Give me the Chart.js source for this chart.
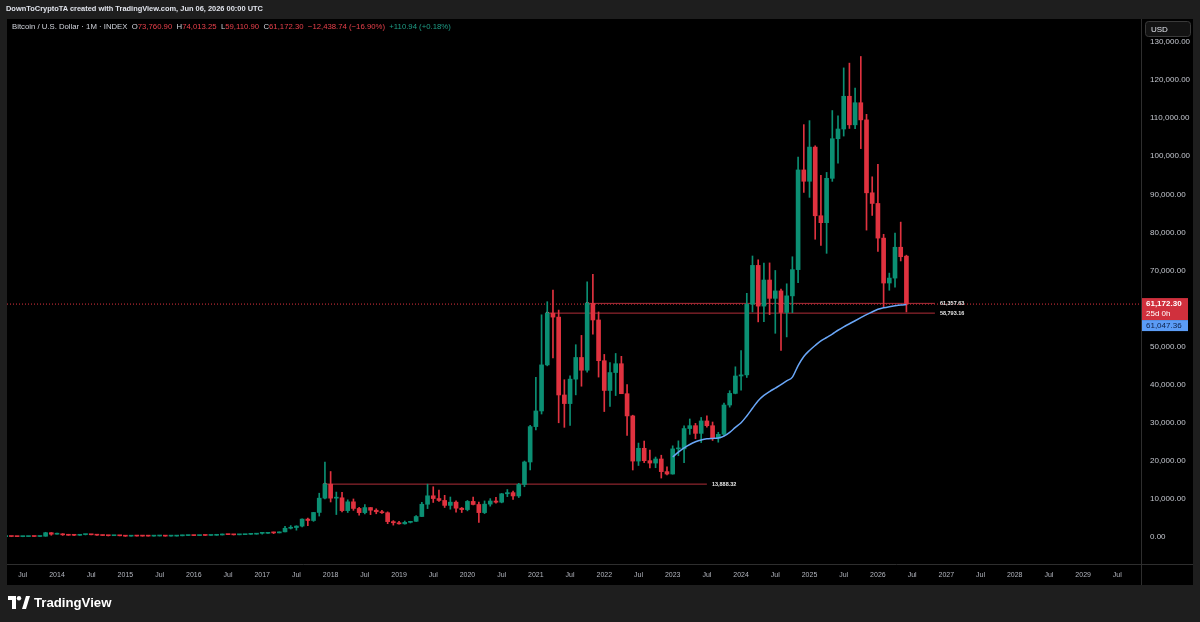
<!DOCTYPE html>
<html><head><meta charset="utf-8">
<script src="https://cdn.jsdelivr.net/npm/chart.js@4.4.1/dist/chart.umd.min.js"></script>
<style>
html,body{margin:0;padding:0;background:#1e1e1e;width:1200px;height:622px;overflow:hidden;font-family:"Liberation Sans",Arial,sans-serif}
canvas{position:absolute;left:0;top:0}
.hd1{position:absolute;left:6px;top:3px;color:#e0e3eb;font-size:7.45px;font-weight:bold;white-space:nowrap;line-height:12px}
.hd2{position:absolute;left:12px;top:21px;color:#d1d4dc;font-size:7.75px;white-space:nowrap;line-height:12px}
.r{color:#e8404b}.g{color:#1f9e87}
.logo{position:absolute;left:8px;top:595px;display:flex;align-items:center;color:#fff;font-weight:bold;font-size:13.2px;font-family:"Liberation Sans",Arial,sans-serif}
.logo svg{margin-right:4px}
</style></head>
<body>
<canvas id="c" width="1200" height="622"></canvas>
<div class="hd1">DownToCryptoTA created with TradingView.com, Jun 06, 2026 00:00 UTC</div>
<div class="hd2">Bitcoin / U.S. Dollar · 1M · INDEX&nbsp; O<span class="r">73,760.90</span>&nbsp; H<span class="r">74,013.25</span>&nbsp; L<span class="r">59,110.90</span>&nbsp; C<span class="r">61,172.30</span>&nbsp; <span class="r">−12,438.74 (−16.90%)</span>&nbsp; <span class="g">+110.94 (+0.18%)</span></div>
<div class="logo"><svg width="22" height="13" viewBox="0 0 22 13"><path d="M0 0H8V13H4V4H0Z" fill="#fff"/><circle cx="11" cy="2.2" r="2.2" fill="#fff"/><path d="M14 13L18 0H22L18 13Z" fill="#fff"/></svg>TradingView</div>
<script>
// ---- data ----
const firstMonth = [2013, 4]; // first candle: Apr 2013
const opens = [
  93,139,129,97,106,135,133,204,1129,
  732,800,573,457,448,628,640,586,477,386,338,378,
  320,217,254,244,236,230,264,284,231,236,314,377,
  430,368,437,416,448,531,673,624,575,609,700,742,
  964,970,1190,1080,1350,2300,2480,2870,4700,4340,6450,10200,
  13880,10200,10300,6930,9240,7500,6400,7730,7030,6630,6370,4040,
  3740,3460,3850,4120,5380,8600,10820,10100,9600,8300,9150,7570,
  7200,9350,8540,6410,8630,9450,9140,11350,11650,10780,13800,19700,
  28990,33100,45200,58793,57750,37300,35040,41460,47150,43800,61357,57000,
  46300,38480,43190,45510,37630,31800,19940,23300,20050,19420,20490,17170,
  16540,23140,23150,28480,29240,27220,30480,29230,25940,26970,34660,37720,
  42280,42580,61130,71330,60640,67490,62680,64630,58970,63330,70220,96400,
  93430,102400,84370,82550,94200,104600,107150,115750,108250,114050,109550,90400,
  87600,78500,66700,68000,76100,73760.90
];
const highs = [
  266,140,130,111,136,147,218,1242,1165,
  1000,880,718,540,630,680,665,600,500,420,460,400,
  320,265,299,261,247,268,318,285,244,330,502,469,
  463,448,440,467,550,780,704,625,627,720,754,970,
  1150,1210,1300,1350,2800,3000,2950,4750,5000,6470,11500,19700,
  17200,11800,11700,9760,9990,7770,8500,7760,7410,6990,6600,4300,
  4100,4200,4130,5640,9100,13880,13200,12330,10950,10500,9500,7750,
  9600,10500,9190,9470,10080,10400,11450,12470,12080,14100,19950,29300,
  41950,58350,61800,64850,59600,41300,42300,50500,52950,67000,69000,59100,
  47950,45800,48200,47450,40000,31990,24670,25200,22800,21000,21480,18400,
  23950,25250,29200,31000,29840,31400,31800,30200,27500,35200,38420,44700,
  48970,64000,73800,72800,71950,71980,70000,65100,66500,73600,99800,108300,
  109350,102750,95000,95750,112000,110600,123200,124450,117900,126200,111000,94600,
  97900,79500,69300,79800,82700,74013.25
];
const lows = [
  50,79,88,65,101,110,106,195,456,
  730,420,440,340,420,540,565,440,360,275,320,300,
  152,212,238,214,228,218,253,198,225,235,300,345,
  350,366,395,414,436,526,604,530,568,603,681,740,
  750,940,890,1070,1340,2100,1800,2670,2970,4110,5500,10000,
  9200,5900,6600,6430,7000,5750,6070,5880,6100,6200,3500,3120,
  3350,3370,3690,4100,5320,7460,9070,9320,7750,7300,6530,6430,
  6870,8450,3850,6150,8100,8900,8970,10600,9850,10370,13200,17600,
  28130,32300,44950,47050,30000,28800,29300,37330,39600,43300,53250,42000,
  32950,34320,37150,37700,26700,17600,18780,19540,18150,18200,15480,16300,
  16500,21350,19550,26950,25800,24800,28850,25350,24900,26560,34100,37600,
  38550,41900,59100,56500,56550,58400,53500,49000,52550,58900,66800,90500,
  89200,78200,76600,74500,93400,98200,105300,107300,107250,102000,80600,84450,
  75000,60500,64800,65600,72500,59110.90
];
const closes = [
  139,129,97,106,135,133,204,1129,732,
  800,573,457,448,628,640,586,477,386,338,378,320,
  217,254,244,236,230,264,284,231,236,314,377,430,
  368,437,416,448,531,673,624,575,609,700,742,964,
  970,1190,1080,1350,2300,2480,2870,4700,4340,6450,10200,13880,
  10200,10300,6930,9240,7500,6400,7730,7030,6630,6370,4040,3740,
  3460,3850,4120,5380,8600,10820,10100,9600,8300,9150,7570,7200,
  9350,8540,6410,8630,9450,9140,11350,11650,10780,13800,19700,28990,
  33100,45200,58793,57750,37300,35040,41460,47150,43800,61357,57000,46300,
  38480,43190,45510,37630,31800,19940,23300,20050,19420,20490,17170,16540,
  23140,23150,28480,29240,27220,30480,29230,25940,26970,34660,37720,42280,
  42580,61130,71330,60640,67490,62680,64630,58970,63330,70220,96400,93430,
  102400,84370,82550,94200,104600,107150,115750,108250,114050,109550,90400,87600,
  78500,66700,68000,76100,73611.04,61172.30
];
// moving average line (Jan 2023 .. Jun 2026)
const maFirstMonth = [2023, 1];
const maValues = [
  21000,22300,23400,24300,25000,25500,25800,25900,26000,26500,27500,28800,
  30000,31800,33800,35800,37200,38200,39100,40000,41000,42000,45000,47400,
  49000,50300,51500,52400,53300,54300,55200,56000,56800,57600,58400,59100,
  59800,60200,60500,60750,60950,61047.36
];
// horizontal levels
const levelValues = [61357.63, 58793.16, 13888.32];
const levelStart  = ["2021-10", "2021-03", "2017-12"];
const levelEnd    = ["2026-11", "2026-11", "2023-07"];
const lastPrice = 61172.30;
const lastMA = 61047.36;
const countdown = "25d 0h";
// axis ticks
const xTickFirst = "2013-07";
const xTickLabels = ["Jul","2014","Jul","2015","Jul","2016","Jul","2017","Jul","2018","Jul","2019","Jul","2020","Jul","2021","Jul","2022","Jul","2023","Jul","2024","Jul","2025","Jul","2026","Jul","2027","Jul","2028","Jul","2029","Jul"];
const yTicks = [0,10000,20000,30000,40000,50000,60000,70000,80000,90000,100000,110000,120000,130000];

// ---- helpers ----
function mIdx(y, m){ return (y-2014)*12 + (m-1); }
function mStr(s){ const p = s.split('-'); return mIdx(+p[0], +p[1]); }
const start = mIdx(firstMonth[0], firstMonth[1]);
const maStart = mIdx(maFirstMonth[0], maFirstMonth[1]);
const UP = '#0b8f73', DOWN = '#e0323f';

const colors = closes.map((c,i)=> c >= opens[i] ? UP : DOWN);
const bodies = opens.map((o,i)=>({x:start+i, y:[o, closes[i]]}));
const wicks = lows.map((l,i)=>({x:start+i, y:[l, highs[i]]}));
const maData = maValues.map((v,i)=>({x:maStart+i, y:v}));
const xTickVals = xTickLabels.map((_,i)=> mStr(xTickFirst) + 6*i);

const xMin = -8.77, xMax = 190.15;
const yMin = -7090, yMax = 135780;

const levelSets = levelValues.map((v,i)=>({
  type:'line', data:[{x:mStr(levelStart[i]), y:v},{x:mStr(levelEnd[i]), y:v}],
  borderColor:'#b02e39', borderWidth:1, order:4,
  pointRadius:(c)=> c.dataIndex===0 ? 1.6 : 0, pointBackgroundColor:'#ff9aa3', pointBorderWidth:0
}));

const tvPlugin = {
  id:'tv',
  beforeDraw(c){
    const g = c.ctx; g.save();
    g.fillStyle='#1e1e1e'; g.fillRect(0,0,1200,622);
    g.fillStyle='#000000'; g.fillRect(7,19,1186,566);
    g.strokeStyle='#2e2e2e'; g.lineWidth=1;
    g.beginPath(); g.moveTo(1141.5,19); g.lineTo(1141.5,585); g.stroke();
    g.beginPath(); g.moveTo(7,564.5); g.lineTo(1193,564.5); g.stroke();
    g.restore();
  },
  afterDatasetsDraw(c){
    const g = c.ctx, xs = c.scales.x, ys = c.scales.y; g.save();
    g.font='bold 5.5px "Liberation Sans", Arial, sans-serif'; g.fillStyle='#e6e6e6';
    g.textBaseline='middle'; g.textAlign='left';
    levelValues.forEach((v,i)=>{
      const x = xs.getPixelForValue(mStr(levelEnd[i])) + 5;
      const y = ys.getPixelForValue(v);
      g.fillText(v.toLocaleString('en-US',{minimumFractionDigits:2,maximumFractionDigits:2}), x, y);
    });
    g.restore();
  },
  afterDraw(c){
    const g = c.ctx, ys = c.scales.y; g.save();
    const yc = ys.getPixelForValue(lastPrice);
    // red price box
    g.fillStyle='#d0303d'; g.fillRect(1142, yc-6, 46, 22);
    g.fillStyle='#ffffff'; g.textBaseline='middle'; g.textAlign='left';
    g.font='bold 8px "Liberation Sans", Arial, sans-serif';
    g.fillText(lastPrice.toLocaleString('en-US',{minimumFractionDigits:2}), 1146, yc);
    g.font='8px "Liberation Sans", Arial, sans-serif';
    g.fillText(countdown, 1146, yc+10);
    // blue MA box
    g.fillStyle='#5b9cf6'; g.fillRect(1142, yc+16, 46, 11);
    g.fillStyle='#0d1f45'; g.font='8px "Liberation Sans", Arial, sans-serif';
    g.fillText(lastMA.toLocaleString('en-US',{minimumFractionDigits:2}), 1146, yc+21.5);
    // USD button
    g.fillStyle='#131313'; g.strokeStyle='#3a3a3a'; g.lineWidth=1;
    g.beginPath(); g.roundRect(1145.5,21.5,45,15,3); g.fill(); g.stroke();
    g.fillStyle='#e0e3eb'; g.font='8px "Liberation Sans", Arial, sans-serif';
    g.fillText('USD', 1151, 29.5);
    g.restore();
  }
};

new Chart(document.getElementById('c'), {
  type:'bar',
  data:{ datasets:[
    {type:'line', data:maData, borderColor:'#6aa7f8', borderWidth:1.5, pointRadius:0, cubicInterpolationMode:'monotone', order:0},
    {type:'bar', data:bodies, backgroundColor:colors, barThickness:4, grouped:false, minBarLength:1, borderWidth:0, order:1},
    {type:'bar', data:wicks, backgroundColor:colors, barThickness:1, grouped:false, borderWidth:0, order:2},
    ...levelSets,
    {type:'line', data:[{x:xMin,y:lastPrice},{x:xMax,y:lastPrice}], borderColor:'#e0323f', borderWidth:1, borderDash:[1,2], pointRadius:0, order:5}
  ]},
  options:{
    animation:false, responsive:false, maintainAspectRatio:false,
    layout:{padding:{left:7, top:20, right:7, bottom:37}},
    plugins:{legend:{display:false}, tooltip:{enabled:false}},
    scales:{
      x:{type:'linear', min:xMin, max:xMax, offset:false,
        grid:{display:false, drawTicks:false}, border:{display:false},
        afterBuildTicks(s){ s.ticks = xTickVals.map(v=>({value:v})); },
        afterFit(s){ s.height = 21; },
        ticks:{autoSkip:false, maxRotation:0, padding:7, color:'#b2b5be',
          font:{size:7, family:'"Liberation Sans", Arial, sans-serif'},
          callback:(v,i)=> xTickLabels[i]}
      },
      y:{type:'linear', position:'right', min:yMin, max:yMax,
        grid:{display:false, drawTicks:false}, border:{display:false},
        afterBuildTicks(s){ s.ticks = yTicks.map(v=>({value:v})); },
        afterFit(s){ s.width = 52; },
        ticks:{padding:9, color:'#c3c6ce',
          font:{size:8, family:'"Liberation Sans", Arial, sans-serif'},
          callback:(v)=> Number(v).toLocaleString('en-US',{minimumFractionDigits:2, maximumFractionDigits:2})}
      }
    }
  },
  plugins:[tvPlugin]
});
</script>
</body></html>
